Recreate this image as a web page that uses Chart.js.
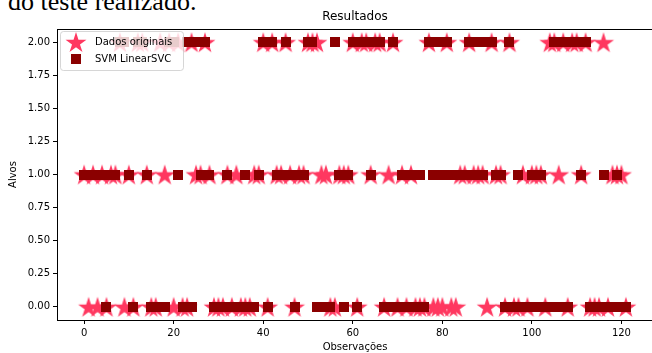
<!DOCTYPE html>
<html>
<head>
<meta charset="utf-8">
<script src="https://cdn.jsdelivr.net/npm/chart.js@4.4.1/dist/chart.umd.min.js"></script>
<style>
  html, body { margin: 0; padding: 0; background: #fff; width: 652px; height: 353px; overflow: hidden; }
  .caption { position: absolute; left: 8px; top: -11px; font-family: 'Liberation Serif', serif; font-size: 26px; line-height: 1; color: #000; white-space: nowrap; }
  .chartcontent { position: absolute; left: 0; top: 0; width: 660px; height: 353px; }
</style>
</head>
<body>
<div class="caption">do teste realizado.</div>
<div class="chartcontent"><canvas id="chart" width="660" height="353"></canvas></div>
<script>
// classe real (estrelas) e classe prevista pelo LinearSVC (quadrados), por observação
const alvosReais = [
  1, 0, 1, 0, 1, 0, 1, 1, 2, 0, 1, 0, 2, 2, 1, 0, 0, 2, 1, 2,
  0, 2, 0, 0, 2, 1, 1, 2, 1, 0, 0, 0, 1, 0, 1, 0, 0, 0, 1, 1,
  2, 0, 2, 1, 1, 2, 1, 0, 1, 1, 2, 2, 2, 1, 1, 0, 0, 1, 1, 1,
  2, 0, 2, 2, 1, 2, 2, 0, 1, 2, 0, 1, 0, 1, 0, 0, 0, 2, 0, 0,
  0, 2, 0, 0, 1, 1, 2, 1, 1, 1, 0, 2, 1, 1, 0, 2, 0, 0, 1, 0,
  1, 1, 1, 0, 2, 2, 1, 2, 0, 2, 2, 1, 2, 0, 0, 0, 2, 0, 1, 1,
  1, 0
];
const alvosPrevistos = [
  1, 1, 1, 1, 1, 0, 1, 1, 2, 2, 1, 0, 2, 2, 1, 0, 0, 0, 0, 2,
  2, 1, 0, 2, 0, 2, 1, 2, 1, 0, 0, 0, 1, 0, 0, 0, 1, 0, 0, 1,
  2, 0, 2, 1, 1, 2, 1, 0, 1, 1, 2, 2, 0, 0, 0, 0, 2, 1, 0, 1,
  2, 0, 2, 2, 1, 2, 2, 0, 0, 2, 0, 1, 0, 1, 0, 1, 0, 2, 1, 2,
  1, 2, 1, 1, 1, 1, 2, 1, 2, 1, 2, 2, 1, 1, 0, 2, 0, 1, 0, 0,
  1, 0, 1, 0, 0, 2, 0, 2, 0, 2, 2, 1, 2, 0, 0, 0, 1, 0, 0, 1,
  0, 0
];
const xTicks = [0, 20, 40, 60, 80, 100, 120];
const yTicks = [0, 0.25, 0.5, 0.75, 1, 1.25, 1.5, 1.75, 2];
const legendLabels = ['Dados originais', 'SVM LinearSVC'];

const corEstrela = 'rgb(255, 56, 96)';
const corQuadrado = '#8b0000';
const fonte = "'DejaVu Sans', sans-serif";

function makeStar(r, color) {
  const c = document.createElement('canvas');
  c.width = c.height = r * 2 + 2;
  const g = c.getContext('2d');
  g.fillStyle = color;
  g.beginPath();
  for (let i = 0; i < 10; i++) {
    const rad = i % 2 === 0 ? r : r * 0.38;
    const a = -Math.PI / 2 + i * Math.PI / 5;
    const px = r + 1 + rad * Math.cos(a);
    const py = r + 1 + rad * Math.sin(a) + r * 0.1;
    if (i === 0) g.moveTo(px, py); else g.lineTo(px, py);
  }
  g.closePath();
  g.fill();
  return c;
}

function makeSquare(s, color) {
  const c = document.createElement('canvas');
  c.width = c.height = s;
  const g = c.getContext('2d');
  g.fillStyle = color;
  g.fillRect(0, 0, s, s);
  return c;
}

const estrela = makeStar(11, corEstrela);
const quadrado = makeSquare(10, corQuadrado);

const toPoints = (arr) => arr.map((v, i) => ({ x: i, y: v }));

// moldura dos eixos, título e legenda no estilo do matplotlib
const moldura = {
  id: 'moldura',
  afterDatasetsDraw(chart) {
    const { ctx, chartArea: a } = chart;
    ctx.save();
    ctx.strokeStyle = '#000';
    ctx.lineWidth = 1;
    ctx.strokeRect(Math.round(a.left) + 0.5, Math.round(a.top) + 0.5,
      Math.round(a.right - a.left), Math.round(a.bottom - a.top));

    ctx.fillStyle = '#000';
    ctx.font = '12px ' + fonte;
    ctx.textAlign = 'center';
    ctx.textBaseline = 'middle';
    ctx.fillText('Resultados', (a.left + a.right) / 2, 17);

    // legenda
    const lx = 60, ly = 31, lw = 123, lh = 39;
    ctx.beginPath();
    ctx.roundRect(lx + 0.5, ly + 0.5, lw, lh, 3);
    ctx.fillStyle = 'rgba(255,255,255,0.8)';
    ctx.fill();
    ctx.strokeStyle = 'rgba(204,204,204,0.8)';
    ctx.stroke();
    ctx.drawImage(estrela, 76 - estrela.width / 2, 42 - estrela.height / 2);
    ctx.drawImage(quadrado, 76 - 5, 59 - 5);
    ctx.fillStyle = '#000';
    ctx.font = '10px ' + fonte;
    ctx.textAlign = 'left';
    ctx.fillText(legendLabels[0], 95, 42);
    ctx.fillText(legendLabels[1], 95, 59);
    ctx.restore();
  }
};

const ctx = document.getElementById('chart').getContext('2d');
new Chart(ctx, {
  type: 'scatter',
  data: {
    datasets: [
      {
        label: legendLabels[0],
        data: toPoints(alvosReais),
        pointStyle: estrela,
        backgroundColor: corEstrela,
        borderColor: corEstrela,
        order: 2
      },
      {
        label: legendLabels[1],
        data: toPoints(alvosPrevistos),
        pointStyle: quadrado,
        backgroundColor: corQuadrado,
        borderColor: corQuadrado,
        order: 1
      }
    ]
  },
  options: {
    responsive: false,
    animation: false,
    layout: { padding: { top: 29, right: 7, bottom: 0, left: 0 } },
    plugins: {
      legend: { display: false },
      title: { display: false },
      tooltip: { enabled: false }
    },
    scales: {
      x: {
        type: 'linear',
        min: -6.05,
        max: 127.05,
        afterBuildTicks: (s) => { s.ticks = xTicks.map(v => ({ value: v })); },
        afterFit: (s) => { s.height = 33; },
        grid: { drawOnChartArea: false, drawTicks: true, tickLength: 4, tickColor: '#000' },
        border: { display: false },
        ticks: { color: '#000', padding: 3, maxRotation: 0, font: { family: fonte, size: 10 } },
        title: { display: true, text: 'Observações', color: '#000', padding: { top: 0, bottom: 0 }, font: { family: fonte, size: 10 } }
      },
      y: {
        type: 'linear',
        min: -0.1,
        max: 2.1,
        afterBuildTicks: (s) => { s.ticks = yTicks.map(v => ({ value: v })); },
        afterFit: (s) => { s.width = 57; },
        grid: { drawOnChartArea: false, drawTicks: true, tickLength: 4, tickColor: '#000' },
        border: { display: false },
        ticks: { color: '#000', padding: 3, font: { family: fonte, size: 10 }, callback: (v) => v.toFixed(2) },
        title: { display: true, text: 'Alvos', color: '#000', padding: { top: 7, bottom: 0 }, font: { family: fonte, size: 10 } }
      }
    }
  },
  plugins: [moldura]
});
</script>
</body>
</html>
